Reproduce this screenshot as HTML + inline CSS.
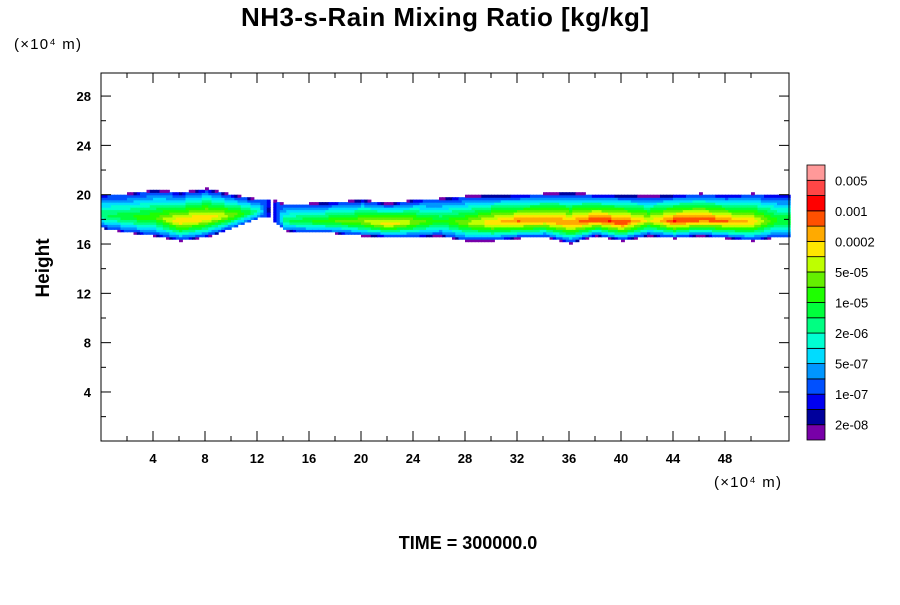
<!DOCTYPE html>
<html><head><meta charset="utf-8"><style>
body{margin:0;background:#fff;font-family:"Liberation Sans",sans-serif}
svg text{font-family:"Liberation Sans",sans-serif}
</style></head><body>
<svg id="chart" width="900" height="600" xmlns="http://www.w3.org/2000/svg">
<text x="445" y="26" text-anchor="middle" font-size="26" font-weight="bold" textLength="408">NH3-s-Rain Mixing Ratio [kg/kg]</text>
<text x="14" y="49" font-size="15" letter-spacing="1.2">(×10⁴ m)</text>
<text x="714" y="487" font-size="15" letter-spacing="1.2">(×10⁴ m)</text>
<text transform="translate(49,268) rotate(-90)" text-anchor="middle" font-size="19" font-weight="bold">Height</text>
<text x="468" y="549" text-anchor="middle" font-size="18" font-weight="bold">TIME = 300000.0</text>
<g id="field"></g>
<g id="axes"></g>
<g id="cbar"></g>
</svg>
<script>
const xs=[0,2,4,6,8,10,12,13,14,16,18,20,22,24,26,28,30,32,34,36,38,40,42,44,46,48,50,52];
const tops=[20.0,20.1,20.4,20.2,20.5,20.0,19.6,19.6,19.2,19.3,19.4,19.6,19.3,19.6,19.7,19.9,20.0,20.0,20.1,20.2,20.0,20.0,19.9,20.0,20.1,20.0,20.1,20.0];
const bottoms=[17.3,16.95,16.7,16.3,16.6,17.3,18.1,18.1,17.1,16.95,16.9,16.7,16.6,16.6,16.7,16.3,16.3,16.5,16.6,16.1,16.7,16.3,16.7,16.5,16.7,16.5,16.3,16.6];
const peaks=[8,9,10,13,13,11,7,0,8,9,10,11,13,11,9,11,13,14,14,14,15,15,12,15,15,14,13,9];
const colors=["#7800a8","#00009c","#0000f0","#0050ff","#0096ff","#00dcff","#00ffd2","#00ff82","#00ff3c","#1eff00","#64ef00","#beff00","#ffe600","#ffaa00","#ff5000","#ff0000","#ff4646","#ff9999"];
const cbarLabels=["2e-08","1e-07","5e-07","2e-06","1e-05","5e-05","0.0002","0.001","0.005"];
const xTicks=[4,8,12,16,20,24,28,32,36,40,44,48];
const yTicks=[4,8,12,16,20,24,28];
const NS="http://www.w3.org/2000/svg";
const L=101,R=789,T=73,B=441;
const X=v=>L+v*13, Y=v=>441.3-v*12.33;
function mk(t,a,p){const e=document.createElementNS(NS,t);for(const k in a)e.setAttribute(k,a[k]);p.appendChild(e);return e;}
function interp(arr,x){for(let i=0;i<xs.length-1;i++){if(x<=xs[i+1]){const f=(x-xs[i])/(xs[i+1]-xs[i]);return arr[i]+(arr[i+1]-arr[i])*f;}}return arr[arr.length-1];}
const field=document.getElementById('field');
const dx=0.25,dy=0.2;
for(let x=0;x<52.9;x+=dx){
  const t=interp(tops,x),b=interp(bottoms,x),p=interp(peaks,x);
  if(p<1)continue;
  const c=b+0.4*(t-b);
  for(let y=16;y<21;y+=dy){
    const yc=y+dy/2;
    if(yc>t||yc<b)continue;
    const d=yc>c?(yc-c)/(t-c):(c-yc)/(c-b);
    let lv=d>0.93?Math.floor(3*(1-d)/0.07):Math.floor(3+(p-3)*(1-Math.pow(d/0.93,1.15)));
    lv=Math.max(0,Math.min(17,lv));
    const r=mk('rect',{x:X(x).toFixed(1),y:Y(y+dy).toFixed(1),width:(dx*13+0.6).toFixed(1),height:(dy*12.33+0.6).toFixed(1),fill:colors[lv]},field);
    
    
  }
}
const ax=document.getElementById('axes');
const frame=mk('rect',{x:L,y:T,width:R-L,height:B-T,fill:'none',stroke:'#000','stroke-width':1},ax);


for(let v=2;v<52;v+=2){const big=v%4==0;const px=X(v);
  mk('line',{x1:px,x2:px,y1:B,y2:B-(big?10:5),stroke:'#000'},ax);
  mk('line',{x1:px,x2:px,y1:T,y2:T+(big?10:5),stroke:'#000'},ax);}
for(let v=2;v<30;v+=2){const big=v%4==0;const py=Y(v);
  mk('line',{x1:L,x2:L+(big?10:5),y1:py,y2:py,stroke:'#000'},ax);
  mk('line',{x1:R,x2:R-(big?10:5),y1:py,y2:py,stroke:'#000'},ax);}
xTicks.forEach(v=>{const t=mk('text',{x:X(v),y:463,'text-anchor':'middle','font-size':13,'font-weight':'bold'},ax);t.textContent=v;
  
  });
yTicks.forEach(v=>{const t=mk('text',{x:91,y:Y(v)+5,'text-anchor':'end','font-size':13,'font-weight':'bold'},ax);t.textContent=v;
  
  });
const cb=document.getElementById('cbar');
const cy0=440,ch=275/18;
colors.forEach((c,i)=>{const r=mk('rect',{x:807,y:cy0-(i+1)*ch,width:18,height:ch,fill:c,stroke:'#000','stroke-width':0.8},cb);
  
  });
cbarLabels.forEach((s,i)=>{const t=mk('text',{x:835,y:cy0-(2*i+1)*ch+5,'font-size':13},cb);t.textContent=s;
  
  });
</script>
</body></html>
